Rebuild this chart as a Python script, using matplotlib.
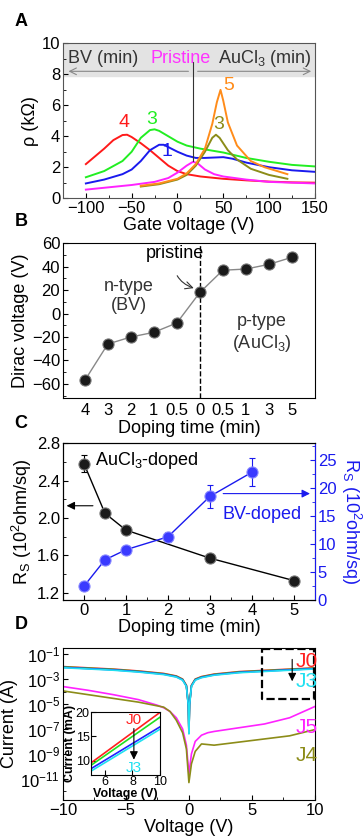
import numpy as np
import matplotlib
matplotlib.use('Agg')
import matplotlib.pyplot as plt
from matplotlib.ticker import AutoMinorLocator, LogLocator, NullFormatter

plt.rcParams['font.family'] = ['Liberation Sans', 'DejaVu Sans']
plt.rcParams['mathtext.fontset'] = 'custom'
plt.rcParams['mathtext.rm'] = 'Liberation Sans'
plt.rcParams['mathtext.it'] = 'Liberation Sans:italic'
plt.rcParams['mathtext.default'] = 'regular'
plt.rcParams['font.size'] = 12
plt.rcParams['xtick.labelsize'] = 12
plt.rcParams['ytick.labelsize'] = 12
plt.rcParams['xtick.direction'] = 'in'
plt.rcParams['ytick.direction'] = 'in'
plt.rcParams['xtick.major.pad'] = 2
plt.rcParams['ytick.major.pad'] = 2

# ---- panel A: resistivity vs gate voltage ----
red_x = [-100, -90, -80, -70, -60, -55, -50, -40, -30, -20, -10, 0, 10, 25, 50, 75, 100, 125, 150]
red_y = [2.2, 2.7, 3.2, 3.75, 4.08, 4.1, 3.95, 3.55, 3.1, 2.6, 2.1, 1.75, 1.55, 1.4, 1.25, 1.15, 1.07, 1.02, 1.0]
green_x = [-100, -80, -60, -50, -40, -30, -25, -20, -10, 0, 10, 25, 50, 75, 100, 125, 150]
green_y = [1.35, 1.75, 2.4, 3.0, 3.9, 4.4, 4.45, 4.35, 4.0, 3.65, 3.4, 3.2, 2.95, 2.6, 2.35, 2.15, 2.05]
blue_x = [-100, -80, -60, -50, -40, -30, -20, -15, -10, 0, 10, 20, 30, 50, 60, 75, 100, 125, 150]
blue_y = [0.95, 1.2, 1.55, 1.85, 2.4, 3.1, 3.45, 3.45, 3.3, 3.0, 2.75, 2.6, 2.6, 2.65, 2.55, 2.3, 2.0, 1.8, 1.7]
pink_x = [-100, -75, -50, -25, -10, 0, 10, 17, 22, 30, 40, 50, 75, 100, 125, 150]
pink_y = [0.55, 0.7, 0.85, 1.05, 1.3, 1.65, 2.1, 2.35, 2.25, 1.85, 1.55, 1.4, 1.2, 1.05, 1.0, 0.95]
olive_x = [-40, -20, 0, 10, 20, 30, 38, 42, 46, 55, 65, 80, 100, 120]
olive_y = [0.75, 0.9, 1.2, 1.5, 2.1, 3.0, 3.9, 4.1, 3.9, 3.1, 2.5, 1.9, 1.5, 1.25]
orange_x = [-40, -20, 0, 10, 20, 30, 38, 43, 47, 50, 55, 65, 80, 95, 120]
orange_y = [0.8, 0.95, 1.25, 1.6, 2.2, 3.2, 4.8, 6.2, 7.0, 6.3, 4.9, 3.4, 2.4, 2.0, 1.55]

# ---- panel B: Dirac voltage ----
b_labels = ['4', '3', '2', '1', '0.5', '0', '0.5', '1', '3', '5']
dirac_v = [-57, -26, -20, -16, -8, 18, 37, 38, 42, 48]

# ---- panel C: sheet resistance ----
au_t = [0, 0.5, 1, 3, 5]
au_rs = [2.58, 2.05, 1.87, 1.57, 1.33]
au_err = [0.09, 0.02, 0.02, 0.02, 0.02]
bv_t = [0, 0.5, 1, 2, 3, 4]
bv_rs = [2.5, 7.2, 9.0, 11.3, 18.5, 22.8]
bv_err = [0.3, 0.3, 0.4, 0.9, 2.0, 2.5]

# ---- panel D: I-V (log10 of current) ----
iv_x = [-10, -8, -6, -4, -2, -1, -0.5, -0.2, -0.05, 0, 0.05, 0.2, 0.5, 1, 2, 4, 6, 8, 10]
j0_log = [-2.0, -2.1, -2.2, -2.35, -2.55, -2.75, -3.0, -3.5, -5.0, -7.3, -5.0, -3.5, -3.0, -2.8, -2.6, -2.4, -2.3, -2.2, -2.1]
j_offsets = [0.0, -0.03, -0.06, -0.09]
j_colors = ['#ff2020', '#20e020', '#2020ff', '#20e0f0']
j5_x = [-10, -8, -6, -4, -2.5, -2, -1.5, -1, -0.5, -0.2, 0, 0.2, 0.5, 1, 1.5, 2, 4, 6, 8, 10]
j5_log = [-3.6, -3.9, -4.25, -4.65, -5.1, -5.3, -5.6, -6.1, -7.0, -8.3, -10.6, -9.0, -8.0, -7.5, -7.3, -7.2, -6.9, -6.6, -6.1, -5.2]
j4_x = [-10, -8, -6, -4, -2, -1.5, -1, -0.5, -0.2, 0, 0.2, 0.5, 1, 1.5, 2, 4, 6, 8, 10]
j4_log = [-3.95, -4.25, -4.55, -4.85, -5.25, -5.6, -6.3, -7.3, -8.6, -11.3, -9.8, -8.8, -8.2, -8.25, -8.3, -8.05, -7.8, -7.55, -7.05]

# inset: linear current (mA)
ins_v = [5, 10]
ins_i = [[9.5, 20.0], [9.0, 19.0], [8.3, 17.0], [7.8, 16.5]]

fig = plt.figure(figsize=(3.64, 8.36), dpi=100)

# ===== A =====
axA = fig.add_axes([0.173, 0.763, 0.692, 0.185])
axA.axhspan(7.9, 10, color='#e3e3e3', zorder=0)
axA.plot(red_x, red_y, color='#ff1a1a', lw=1.4)
axA.plot(green_x, green_y, color='#22ee22', lw=1.4)
axA.plot(blue_x, blue_y, color='#1a1aee', lw=1.4)
axA.plot(pink_x, pink_y, color='#ff22ff', lw=1.4)
axA.plot(olive_x, olive_y, color='#8c8c18', lw=1.4)
axA.plot(orange_x, orange_y, color='#ff8c1a', lw=1.4)
axA.annotate('', xy=(-122, 8.2), xytext=(15, 8.2),
             arrowprops=dict(arrowstyle='->', color='#888888', lw=0.8))
axA.annotate('', xy=(149, 8.2), xytext=(19, 8.2),
             arrowprops=dict(arrowstyle='->', color='#888888', lw=0.8))
axA.plot([17, 17], [8.8, 2.4], color='#333333', lw=0.8)
axA.text(-119, 9.05, 'BV (min)', fontsize=13, color='#333333', va='center')
axA.text(3, 9.05, 'Pristine', fontsize=13, color='#ff33ff', va='center', ha='center')
axA.text(146, 9.05, 'AuCl$_3$ (min)', fontsize=13, color='#333333', va='center', ha='right')
axA.text(-58, 4.6, '4', color='#ff1a1a', fontsize=14, ha='center')
axA.text(-28, 4.8, '3', color='#22ee22', fontsize=14, ha='center')
axA.text(-12, 2.7, '1', color='#1a1aee', fontsize=14, ha='center')
axA.text(56, 7.0, '5', color='#ff8c1a', fontsize=14, ha='center')
axA.text(45, 4.5, '3', color='#8c8c18', fontsize=14, ha='center')
axA.set_xlim(-125, 150)
axA.set_ylim(0, 10)
axA.set_xticks([-100, -50, 0, 50, 100, 150])
axA.set_yticks([0, 2, 4, 6, 8, 10])
axA.xaxis.set_minor_locator(AutoMinorLocator(2))
axA.yaxis.set_minor_locator(AutoMinorLocator(2))
axA.set_xlabel('Gate voltage (V)', fontsize=13, labelpad=1)
axA.set_ylabel('ρ (kΩ)', fontsize=13, labelpad=2)
for s in axA.spines.values():
    s.set_color('#555555')

# ===== B =====
axB = fig.add_axes([0.173, 0.524, 0.692, 0.185])
bx = np.arange(len(dirac_v))
axB.plot(bx, dirac_v, color='#888888', lw=1, zorder=2)
axB.plot(bx, dirac_v, 'o', ms=8, mfc='#1a1a1a', mec='#777777', mew=0.8, zorder=3)
axB.axvline(5, color='black', ls='--', lw=1)
axB.annotate('pristine', xy=(4.85, 21), xytext=(3.9, 51), ha='center', va='center', fontsize=13,
             arrowprops=dict(arrowstyle='->', color='#333333', lw=0.8,
                             connectionstyle='arc3,rad=0.45', shrinkA=8))
axB.text(1.9, 15, 'n-type\n(BV)', ha='center', va='center', fontsize=13, color='#333333')
axB.text(7.7, -17, 'p-type\n(AuCl$_3$)', ha='center', va='center', fontsize=13, color='#333333')
axB.set_xlim(-0.95, 10)
axB.set_ylim(-72, 60)
axB.set_xticks(bx)
axB.set_xticklabels(b_labels)
axB.set_yticks([-60, -40, -20, 0, 20, 40, 60])
axB.yaxis.set_minor_locator(AutoMinorLocator(2))
axB.set_xlabel('Doping time (min)', fontsize=13, labelpad=1)
axB.set_ylabel('Dirac voltage (V)', fontsize=13, labelpad=2)
axB.tick_params(axis='x', length=0, pad=4)

# ===== C =====
axC = fig.add_axes([0.173, 0.282, 0.692, 0.188])
axC.errorbar(au_t, au_rs, yerr=au_err, color='black', lw=1, marker='o', ms=8,
             mfc='#1a1a1a', mec='#777777', mew=0.8, capsize=2, elinewidth=0.8)
axC.annotate('', xy=(-0.48, 2.13), xytext=(0.28, 2.13),
             arrowprops=dict(arrowstyle='-|>', color='black', lw=0.8))
axC.text(0.27, 2.61, 'AuCl$_3$-doped', fontsize=13, va='center')
axC.set_xlim(-0.5, 5.5)
axC.set_ylim(1.12, 2.8)
axC.set_xticks([0, 1, 2, 3, 4, 5])
axC.set_yticks([1.2, 1.6, 2.0, 2.4, 2.8])
axC.xaxis.set_minor_locator(AutoMinorLocator(2))
axC.yaxis.set_minor_locator(AutoMinorLocator(2))
axC.set_xlabel('Doping time (min)', fontsize=13, labelpad=1)
axC.set_ylabel('R$_S$ (10$^2$ohm/sq)', fontsize=13, labelpad=2)
axC2 = axC.twinx()
axC2.errorbar(bv_t, bv_rs, yerr=bv_err, color='#1a1aee', lw=1, marker='o', ms=8,
              mfc='#3a3aff', mec='#8888ff', mew=0.8, capsize=2, elinewidth=0.8)
axC2.annotate('', xy=(5.45, 19), xytext=(3.25, 19),
              arrowprops=dict(arrowstyle='-|>', color='#1a1aee', lw=0.8))
axC2.text(3.3, 15.3, 'BV-doped', fontsize=13, color='#1a1aee', va='center')
axC2.set_ylim(0, 28)
axC2.set_yticks([0, 5, 10, 15, 20, 25])
axC2.yaxis.set_minor_locator(AutoMinorLocator(2))
axC2.set_ylabel('R$_S$ (10$^2$ohm/sq)', fontsize=13, color='#1a1aee', rotation=270, va='center')
axC2.yaxis.set_label_coords(1.145, 0.5)
axC2.tick_params(axis='y', which='both', colors='#1a1aee')
axC2.spines['right'].set_color('#1a1aee')

# ===== D =====
axD = fig.add_axes([0.173, 0.043, 0.692, 0.182])
for off, col in zip(j_offsets, j_colors):
    axD.plot(iv_x, 10 ** (np.array(j0_log) + off), color=col, lw=1.2)
axD.plot(j5_x, 10 ** np.array(j5_log), color='#ff22ff', lw=1.2)
axD.plot(j4_x, 10 ** np.array(j4_log), color='#8c8c18', lw=1.2)
axD.set_yscale('log')
axD.set_xlim(-10, 10)
axD.set_ylim(10 ** -12.7, 10 ** -0.5)
axD.set_xticks([-10, -5, 0, 5, 10])
axD.xaxis.set_minor_locator(AutoMinorLocator(2))
axD.set_yticks([10.0 ** k for k in [-11, -9, -7, -5, -3, -1]])
axD.set_yticklabels(['10$^{%d}$' % k for k in [-11, -9, -7, -5, -3, -1]])
axD.yaxis.set_minor_locator(LogLocator(base=10, numticks=20))
axD.yaxis.set_minor_formatter(NullFormatter())
axD.set_xlabel('Voltage (V)', fontsize=13, labelpad=1)
axD.set_ylabel('Current (A)', fontsize=13, labelpad=2)
axD.plot([5.8, 9.95, 9.95, 5.8, 5.8], [10 ** -0.6, 10 ** -0.6, 10 ** -4.6, 10 ** -4.6, 10 ** -0.6],
         color='black', ls='--', lw=1.6)
axD.annotate('', xy=(8.2, 10 ** -3.4), xytext=(8.2, 10 ** -1.2),
             arrowprops=dict(arrowstyle='-|>', color='black', lw=0.8))
axD.text(9.35, 10 ** -1.6, 'J0', color='#ff2020', fontsize=15, va='center', ha='center')
axD.text(9.35, 10 ** -3.2, 'J3', color='#20e0f0', fontsize=15, va='center', ha='center')
axD.text(9.35, 10 ** -6.9, 'J5', color='#ff22ff', fontsize=15, va='center', ha='center')
axD.text(9.35, 10 ** -9.1, 'J4', color='#8c8c18', fontsize=15, va='center', ha='center')

axI = fig.add_axes([0.25, 0.073, 0.19, 0.075])
for vals, col in zip(ins_i, j_colors):
    axI.plot(ins_v, vals, color=col, lw=1.2)
axI.annotate('', xy=(8.1, 9.6), xytext=(8.1, 17.2),
             arrowprops=dict(arrowstyle='-|>', color='black', lw=0.8))
axI.text(8.1, 18.3, 'J0', color='#ff2020', fontsize=11, ha='center', va='center')
axI.text(8.1, 8.4, 'J3', color='#20e0f0', fontsize=11, ha='center', va='center')
axI.set_xlim(5, 10)
axI.set_ylim(7, 20)
axI.set_xticks([6, 8, 10])
axI.set_yticks([10, 15, 20])
axI.tick_params(labelsize=9, pad=1)
axI.set_xlabel('Voltage (V)', fontsize=9, fontweight='bold', labelpad=0)
axI.set_ylabel('Current (mA)', fontsize=9, fontweight='bold', labelpad=0)

for lab, yy in zip(['A', 'B', 'C', 'D'], [0.974, 0.735, 0.494, 0.253]):
    fig.text(0.04, yy, lab, fontsize=13, fontweight='bold', va='center')

fig.savefig('out.png', dpi=100)
